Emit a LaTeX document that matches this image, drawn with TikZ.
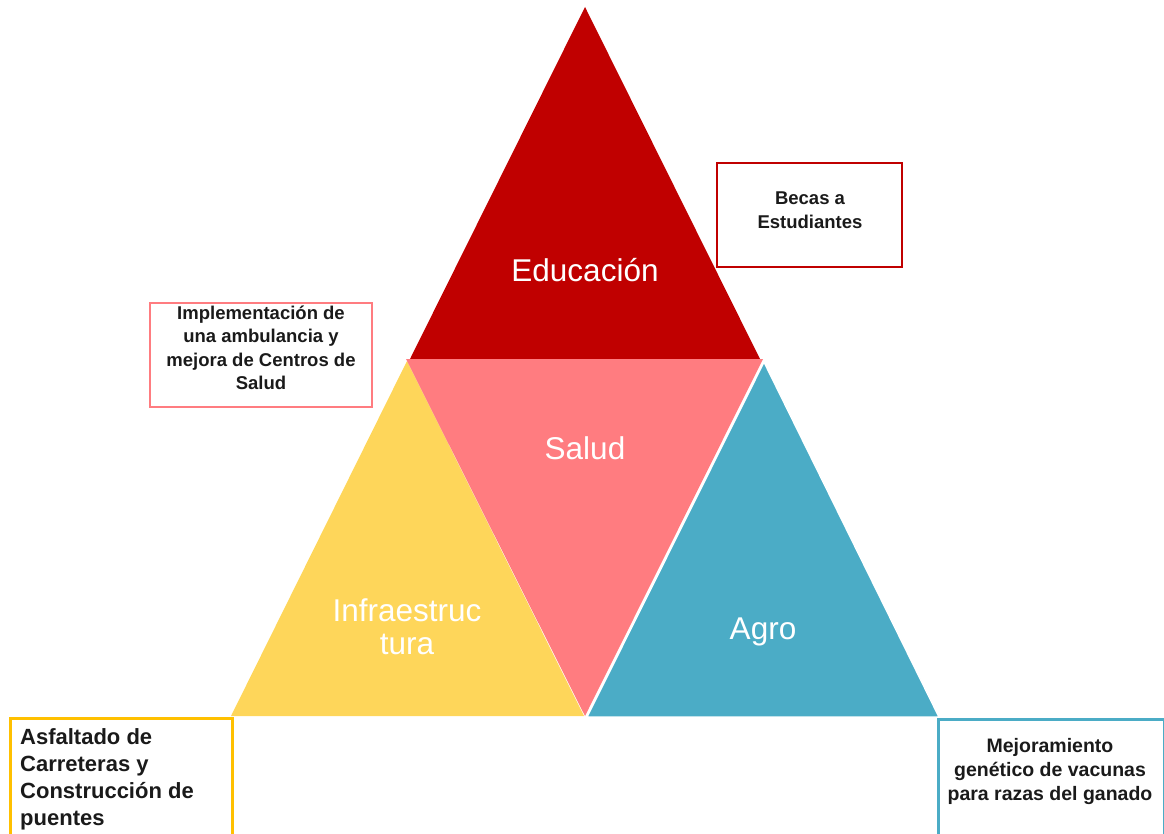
\documentclass[tikz,border=0pt]{standalone}
\usepackage{fontspec}
\setmainfont{Liberation Sans}
\definecolor{edured}{HTML}{C00000}
\definecolor{salpink}{HTML}{FF7C80}
\definecolor{infyel}{HTML}{FED65A}
\definecolor{agroblue}{HTML}{4BACC6}
\definecolor{boxyel}{HTML}{FFC000}
\definecolor{txt}{HTML}{1A1A1A}
\begin{document}
\begin{tikzpicture}[x=1pt,y=-1pt,
  trilabel/.style={text=white, font=\fontsize{31.5}{33}\selectfont, align=center, inner sep=0pt},
  boxtext/.style={text=txt, font=\bfseries\fontsize{18.5}{23.5}\selectfont, align=center, inner sep=0pt},
  infobox/.style={draw, line width=2.6pt, fill=none, inner sep=0pt}]
\useasboundingbox (0,0) rectangle (1164,834);
\clip (0,0) rectangle (1164,834);
% triangles
\fill[edured] (585,7) -- (760,359) -- (410,359) -- cycle;
\fill[infyel] (407,361) -- (584,716) -- (231,716) -- cycle;
\fill[salpink] (406,359) -- (763,359) -- (585,716) -- cycle;
\filldraw[agroblue, draw=white, line width=1.5pt] (764,362) -- (939,717) -- (587,717) -- cycle;
% triangle labels
\node[trilabel] (edu) at (585,270) {Educación};
\node[trilabel] (sal) at (585,448) {Salud};
\node[trilabel] (inf) at (407,627) {Infraestruc\\tura};
\node[trilabel] (agr) at (763,632) {Agro};
% boxes
\node[infobox, draw=edured, minimum width=185pt, minimum height=104pt] (becasbox) at (809.5,215) {};
\node[boxtext] (becas) at (810,210) {Becas a\\Estudiantes};
\node[infobox, draw=salpink, line width=2.4pt, minimum width=222pt, minimum height=104pt] (saludbox) at (261,355) {};
\node[boxtext] (salud) at (261,348) {Implementación de\\una ambulancia y\\mejora de Centros de\\Salud};
\node[infobox, draw=boxyel, minimum width=222pt, minimum height=160pt, anchor=north west] (asfbox) at (9,717) {};
\node[boxtext, font=\bfseries\fontsize{22}{27}\selectfont, align=left, anchor=north west] (asf) at (20,728) {Asfaltado de\\Carreteras y\\Construcción de\\puentes};
\node[infobox, draw=agroblue, minimum width=226pt, minimum height=160pt, anchor=north west] (mejbox) at (937,718) {};
\node[boxtext, font=\bfseries\fontsize{19.5}{24}\selectfont] (mej) at (1050,771) {Mejoramiento\\genético de vacunas\\para razas del ganado};
\end{tikzpicture}
\end{document}
